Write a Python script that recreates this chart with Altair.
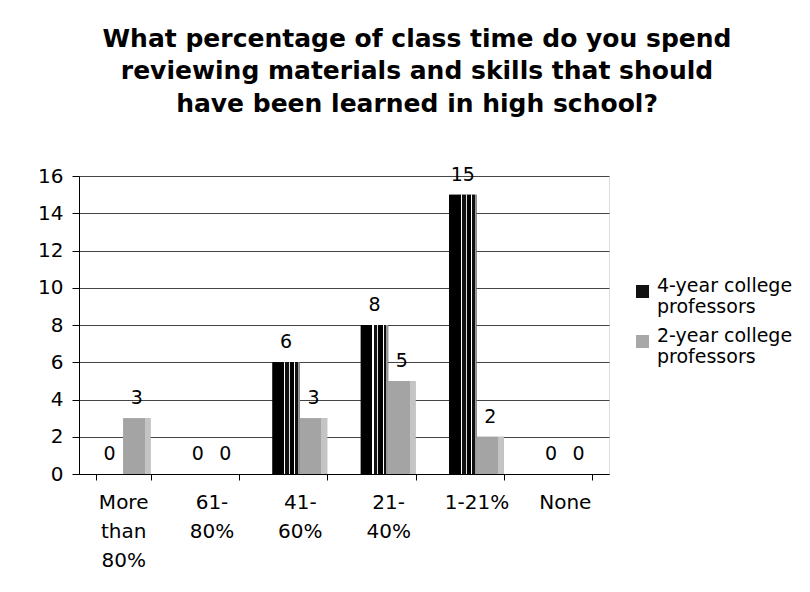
import json
import altair as alt
import pandas as pd

# ---- data ----
categories = ["More than 80%", "61-80%", "41-60%", "21-40%", "1-21%", "None"]
tick_lines = [["More", "than", "80%"], ["61-", "80%"], ["41-", "60%"], ["21-", "40%"], ["1-21%"], ["None"]]
series = ["4-year college professors", "2-year college professors"]
legend_lines = [["4-year college", "professors"], ["2-year college", "professors"]]
four_year = [0, 0, 6, 8, 15, 0]
two_year = [3, 0, 3, 5, 2, 0]
y_ticks = [0, 2, 4, 6, 8, 10, 12, 14, 16]
title_lines = [
    "What percentage of class time do you spend",
    "reviewing materials and skills that should",
    "have been learned in high school?",
]

rows = []
for c, a, b in zip(categories, four_year, two_year):
    rows.append({"category": c, "series": series[0], "value": a})
    rows.append({"category": c, "series": series[1], "value": b})
df = pd.DataFrame(rows)

FONT = "DejaVu Sans"
x_label_expr = json.dumps(dict(zip(categories, tick_lines))) + "[datum.value]"
legend_label_expr = json.dumps(dict(zip(series, legend_lines))) + "[datum.value]"

def stops(pairs):
    return [alt.GradientStop(offset=o, color=c) for o, c in pairs]

grad4 = alt.LinearGradient(
    gradient="linear", x1=0, x2=1, y1=0, y2=0,
    stops=stops([
        (0.0, "#000000"), (0.42, "#000000"), (0.42, "#ffffff"), (0.47, "#ffffff"),
        (0.47, "#111111"), (0.6, "#111111"), (0.6, "#e0e0e0"), (0.64, "#e0e0e0"),
        (0.64, "#000000"), (0.8, "#000000"), (0.8, "#ffffff"), (0.84, "#ffffff"),
        (0.84, "#111111"), (0.93, "#111111"), (0.93, "#9a9a9a"), (1.0, "#9a9a9a"),
    ]),
)
grad2 = alt.LinearGradient(
    gradient="linear", x1=0, x2=1, y1=0, y2=0,
    stops=stops([
        (0.0, "#a4a4a4"), (0.78, "#a4a4a4"), (0.78, "#c4c4c4"), (1.0, "#c4c4c4"),
    ]),
)

x_enc = alt.X(
    "category:N", sort=categories, title=None,
    scale=alt.Scale(paddingInner=0.38, paddingOuter=0.19),
    axis=alt.Axis(
        labelAngle=0, labelExpr=x_label_expr, labelFontSize=20, labelFont=FONT,
        labelColor="#000000", labelLineHeight=29, labelPadding=12,
        tickBand="extent", tickSize=6, tickColor="#000000",
        domainColor="#000000", grid=False,
    ),
)
xo_enc = alt.XOffset("series:N", sort=series, scale=alt.Scale(domain=series))
y_enc = alt.Y(
    "value:Q", title=None,
    scale=alt.Scale(domain=[0, 16], nice=False),
    axis=alt.Axis(
        values=y_ticks, labelFontSize=20, labelFont=FONT, labelColor="#000000",
        labelPadding=9, tickSize=7, tickColor="#000000", domainColor="#000000",
        gridColor="#444444", gridWidth=1,
    ),
)

base = alt.Chart(df).encode(x=x_enc, xOffset=xo_enc, y=y_enc)

bars = base.mark_bar().encode(
    color=alt.Color(
        "series:N", sort=series,
        scale=alt.Scale(domain=series, range=["#111111", "#a8a8a8"]),
        legend=alt.Legend(
            title=None, orient="none", legendX=554, legendY=106,
            symbolType="square", symbolSize=169, symbolStrokeWidth=0,
            labelFont=FONT, labelFontSize=19, labelColor="#000000",
            labelExpr=legend_label_expr, labelOffset=5,
            rowPadding=9, labelBaseline="alphabetic",
        ),
    )
)
pat4 = base.transform_filter(alt.datum.series == series[0]).mark_bar(color=grad4)
pat2 = base.transform_filter(alt.datum.series == series[1]).mark_bar(color=grad2)
labels = base.mark_text(dy=-20, fontSize=19, font=FONT, color="#000000").encode(
    text="value:Q"
)

chart = (
    alt.layer(bars, pat4, pat2, labels)
    .properties(
        width=530, height=298,
        autosize=alt.AutoSizeParams(type="none"),
        padding={"left": 71, "top": 168, "right": 193, "bottom": 100},
        title=alt.TitleParams(
            text=title_lines, font=FONT, fontSize=25, fontWeight="bold",
            color="#000000", anchor="middle", lineHeight=32.5, offset=49, dx=73,
        ),
    )
    .configure_view(stroke="#777777", strokeWidth=1)
    .configure(background="#ffffff")
)

chart.save("out.html", embed_options={"renderer": "svg", "actions": False})
